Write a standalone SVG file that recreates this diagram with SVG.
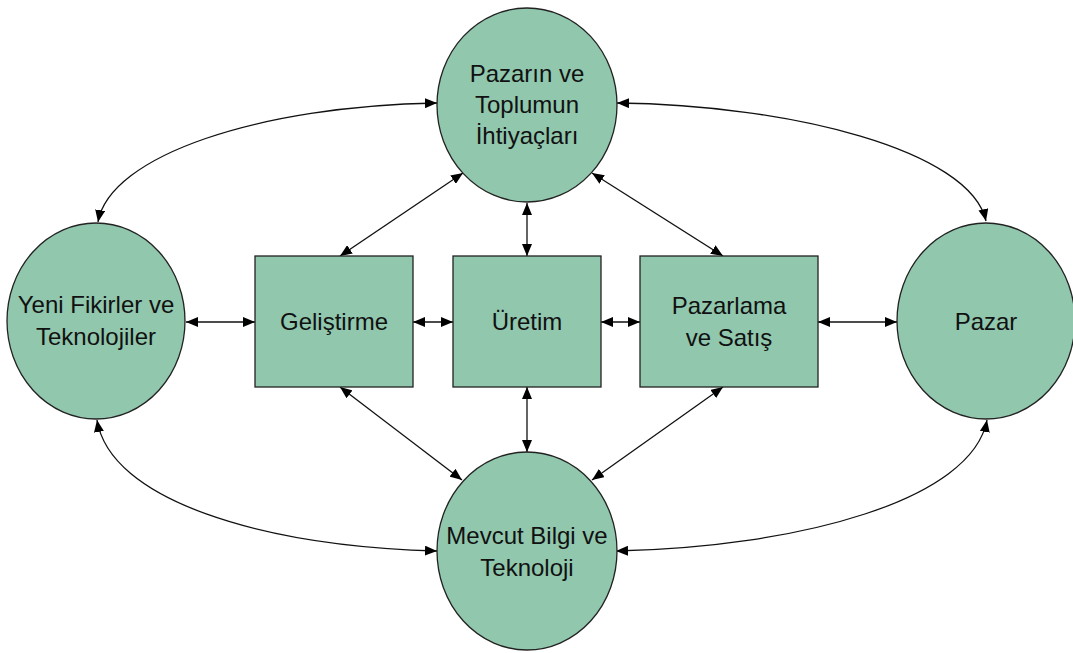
<svg xmlns="http://www.w3.org/2000/svg" width="1073" height="653" viewBox="0 0 1073 653">
<defs>
<style>
.n{fill:#90C7AD;stroke:#222;stroke-width:1.3}
.t{font-family:"Liberation Sans",Arial,sans-serif;font-size:24px;fill:#111;text-anchor:middle}
.c{fill:none;stroke:#111;stroke-width:1.3;marker-start:url(#a);marker-end:url(#a)}
</style>
<marker id="a" markerUnits="userSpaceOnUse" markerWidth="12" markerHeight="10" refX="12" refY="5" orient="auto-start-reverse">
<path d="M0,0 L12,5 L0,10 z" fill="#000"/>
</marker>
</defs>
<rect width="1073" height="653" fill="#fff"/>
<g id="connectors">
<path class="c" d="M98,222 C110,155 260,106 437,103"/>
<path class="c" d="M617,103 C790,105 970,150 986,221"/>
<path class="c" d="M97,420 C110,500 260,546 437,551"/>
<path class="c" d="M616,551 C800,547 972,500 987,420"/>
<path class="c" d="M186,322 L255,322"/>
<path class="c" d="M413,322 L453,322"/>
<path class="c" d="M601,322 L640,322"/>
<path class="c" d="M818,322 L897,322"/>
<path class="c" d="M527,203 L527,256"/>
<path class="c" d="M527,387 L527,452"/>
<path class="c" d="M340,256 L463,173"/>
<path class="c" d="M723,256 L592,173"/>
<path class="c" d="M340,387 L462,480"/>
<path class="c" d="M723,387 L592,480"/>
</g>
<g id="top">
<ellipse class="n" cx="527" cy="105" rx="90" ry="97"/>
<text class="t" x="527" y="82">Pazarın ve</text>
<text class="t" x="527" y="113">Toplumun</text>
<text class="t" x="527" y="144">İhtiyaçları</text>
</g>
<g id="left">
<ellipse class="n" cx="96" cy="321" rx="89" ry="98"/>
<text class="t" x="96" y="313">Yeni Fikirler ve</text>
<text class="t" x="96" y="345">Teknolojiler</text>
</g>
<g id="right">
<ellipse class="n" cx="986" cy="321" rx="89" ry="98"/>
<text class="t" x="986" y="330">Pazar</text>
</g>
<g id="bottom">
<ellipse class="n" cx="527" cy="551" rx="90" ry="99"/>
<text class="t" x="527" y="544">Mevcut Bilgi ve</text>
<text class="t" x="527" y="576">Teknoloji</text>
</g>
<g id="gelistirme">
<rect class="n" x="255" y="256" width="158" height="131"/>
<text class="t" x="334" y="330">Geliştirme</text>
</g>
<g id="uretim">
<rect class="n" x="453" y="256" width="148" height="131"/>
<text class="t" x="527" y="330">Üretim</text>
</g>
<g id="pazarlama">
<rect class="n" x="640" y="256" width="178" height="131"/>
<text class="t" x="729" y="314">Pazarlama</text>
<text class="t" x="729" y="346">ve Satış</text>
</g>
</svg>
